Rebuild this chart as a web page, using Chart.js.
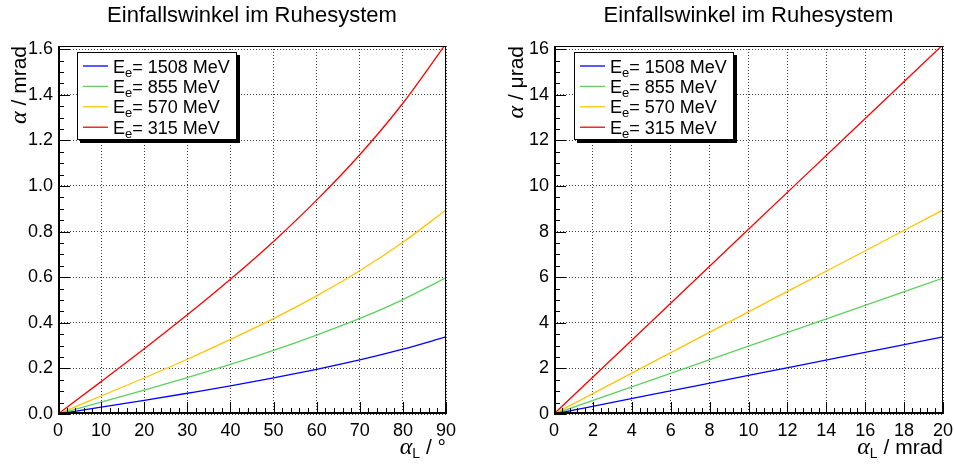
<!DOCTYPE html>
<html>
<head>
<meta charset="utf-8">
<script src="https://cdn.jsdelivr.net/npm/chart.js@4.4.1/dist/chart.umd.min.js"></script>
<style>
  html, body { margin: 0; padding: 0; background: #fff; }
  #wrap { display: flex; width: 954px; height: 465px; }
  canvas { display: block; }
</style>
</head>
<body>
<div id="wrap">
  <canvas id="leftChart" width="477" height="465"></canvas>
  <canvas id="rightChart" width="477" height="465"></canvas>
</div>
<script>
// beam energies (MeV), same order in both panels
const energies = [1508, 855, 570, 315];

// left panel: alpha_L in degrees, alpha in mrad
const angleDeg = [0, 10, 20, 30, 40, 50, 60, 70, 80, 90];
const alphaDeg1508 = [0, 0.030, 0.060, 0.091, 0.123, 0.158, 0.196, 0.237, 0.284, 0.338];
const alphaDeg855  = [0, 0.052, 0.105, 0.160, 0.218, 0.279, 0.346, 0.419, 0.502, 0.597];
const alphaDeg570  = [0, 0.079, 0.158, 0.240, 0.327, 0.418, 0.518, 0.628, 0.753, 0.895];
const alphaDeg315  = [0, 0.142, 0.286, 0.435, 0.591, 0.757, 0.938, 1.137, 1.363, 1.624];

// right panel: alpha_L in mrad, alpha in urad
const angleMrad = [0, 5, 10, 15, 20];
const alphaMrad1508 = [0, 0.845, 1.69, 2.535, 3.38];
const alphaMrad855  = [0, 1.49, 2.98, 4.47, 5.96];
const alphaMrad570  = [0, 2.24, 4.48, 6.71, 8.95];
const alphaMrad315  = [0, 4.05, 8.10, 12.15, 16.20];

// tick labels
const xTicksDeg = [0, 10, 20, 30, 40, 50, 60, 70, 80, 90];
const yTicksDeg = [0, 0.2, 0.4, 0.6, 0.8, 1.0, 1.2, 1.4, 1.6];
const xTicksMrad = [0, 2, 4, 6, 8, 10, 12, 14, 16, 18, 20];
const yTicksMrad = [0, 2, 4, 6, 8, 10, 12, 14, 16];

const lineColors = ['#0000ff', '#5fcf5f', '#ffc400', '#ff0000'];
const FONT = '"Liberation Sans", Arial, sans-serif';

function pairs(xs, ys) {
  return xs.map((x, i) => ({ x: x, y: ys[i] }));
}

// text made of runs with different fonts / vertical offsets (subscripts)
function drawRuns(ctx, runs, x, y, align) {
  let total = 0;
  runs.forEach(r => { ctx.font = r.font; r.w = ctx.measureText(r.text).width; total += r.w; });
  let cx = align === 'right' ? x - total : x;
  runs.forEach(r => {
    ctx.font = r.font;
    ctx.textAlign = 'left';
    ctx.fillText(r.text, cx, y + (r.dy || 0));
    cx += r.w;
  });
}

function subValues(ticks, n) {
  const out = [];
  for (let i = 0; i < ticks.length - 1; i++) {
    const step = (ticks[i + 1] - ticks[i]) / n;
    for (let k = 1; k < n; k++) out.push(ticks[i] + k * step);
  }
  return out;
}

const rootStyle = {
  id: 'rootStyle',
  afterDraw(chart, args, o) {
    const ctx = chart.ctx;
    const a = chart.chartArea;
    const xs = chart.scales.x, ys = chart.scales.y;
    ctx.save();
    ctx.fillStyle = '#000';
    ctx.strokeStyle = '#000';

    // tick marks pointing into the frame
    ctx.lineWidth = 1;
    ctx.beginPath();
    o.xTicks.forEach(v => {
      const p = Math.round(xs.getPixelForValue(v)) + 0.5;
      ctx.moveTo(p, a.bottom); ctx.lineTo(p, a.bottom - 12);
    });
    subValues(o.xTicks, o.xSub).forEach(v => {
      const p = Math.round(xs.getPixelForValue(v)) + 0.5;
      ctx.moveTo(p, a.bottom); ctx.lineTo(p, a.bottom - 6);
    });
    o.yTicks.forEach(v => {
      const p = Math.round(ys.getPixelForValue(v)) + 0.5;
      ctx.moveTo(a.left, p); ctx.lineTo(a.left + 12, p);
    });
    subValues(o.yTicks, o.ySub).forEach(v => {
      const p = Math.round(ys.getPixelForValue(v)) + 0.5;
      ctx.moveTo(a.left, p); ctx.lineTo(a.left + 6, p);
    });
    ctx.stroke();

    // frame
    ctx.lineWidth = 1;
    ctx.strokeRect(a.left + 0.5, a.top + 0.5, a.right - a.left - 1, a.bottom - a.top - 1);
    ctx.lineWidth = 2;
    ctx.beginPath();
    ctx.moveTo(a.left + 1, a.top); ctx.lineTo(a.left + 1, a.bottom - 1); ctx.lineTo(a.right, a.bottom - 1);
    ctx.stroke();

    // title
    ctx.font = '22px ' + FONT;
    ctx.textAlign = 'center';
    ctx.textBaseline = 'alphabetic';
    ctx.fillText(o.title, (a.left + a.right) / 2, 22);

    // x axis title, right aligned
    const big = '21px ' + FONT;
    const sym = 'italic 24px "Liberation Serif", serif';
    const small = '14px ' + FONT;
    drawRuns(ctx, [
      { text: 'α', font: sym },
      { text: 'L', font: small, dy: 4 },
      { text: ' / ' + o.xUnit, font: big }
    ], a.right, 454, 'right');

    // y axis title, rotated, right aligned at the top
    ctx.save();
    ctx.translate(o.yTitleX, a.top);
    ctx.rotate(-Math.PI / 2);
    drawRuns(ctx, [
      { text: 'α', font: sym },
      { text: ' / ' + o.yUnit, font: big }
    ], 0, 0, 'right');
    ctx.restore();

    // legend box with shadow
    const lx = o.legendX, ly = 52, lw = 160, lh = 88;
    ctx.fillStyle = '#000';
    ctx.fillRect(lx + 3, ly + 3, lw, lh);
    ctx.fillStyle = '#fff';
    ctx.fillRect(lx, ly, lw, lh);
    ctx.lineWidth = 1;
    ctx.strokeStyle = '#000';
    ctx.strokeRect(lx + 0.5, ly + 0.5, lw - 1, lh - 1);
    chart.data.datasets.forEach((ds, i) => {
      const cy = 66 + i * 20.4;
      ctx.strokeStyle = ds.borderColor;
      ctx.lineWidth = 1.3;
      ctx.beginPath();
      ctx.moveTo(lx + 6, cy); ctx.lineTo(lx + 31, cy);
      ctx.stroke();
      ctx.fillStyle = '#000';
      ctx.textBaseline = 'alphabetic';
      drawRuns(ctx, [
        { text: 'E', font: '18px ' + FONT },
        { text: 'e', font: '13px ' + FONT, dy: 4 },
        { text: '= ' + energies[i] + ' MeV', font: '18px ' + FONT }
      ], lx + 36, cy + 6.5, 'left');
    });
    ctx.restore();
  }
};

function makeChart(id, xVals, series, xTicks, yTicks, yMax, opts) {
  const xMax = xTicks[xTicks.length - 1];
  return new Chart(document.getElementById(id), {
    type: 'line',
    data: {
      datasets: series.map((s, i) => ({
        label: 'E_e= ' + energies[i] + ' MeV',
        data: pairs(xVals, s),
        borderColor: lineColors[i],
        borderWidth: 1.3,
        pointRadius: 0,
        cubicInterpolationMode: 'monotone',
        fill: false
      }))
    },
    options: {
      responsive: false,
      animation: false,
      devicePixelRatio: 1,
      layout: { padding: { left: 0, top: 46, right: opts.padRight, bottom: 0 } },
      plugins: {
        legend: { display: false },
        title: { display: false },
        tooltip: { enabled: false },
        rootStyle: opts.style
      },
      scales: {
        x: {
          type: 'linear',
          min: 0,
          max: xMax,
          afterBuildTicks: sc => { sc.ticks = xTicks.map(v => ({ value: v })); },
          afterFit: sc => { sc.height = 51; sc.paddingLeft = 0; sc.paddingRight = 0; },
          grid: { color: 'rgba(0,0,0,0.75)', lineWidth: 1, drawTicks: false },
          border: { display: false, dash: [1, 2] },
          ticks: { color: '#000', padding: 6, maxRotation: 0, font: { family: FONT, size: 18 } }
        },
        y: {
          type: 'linear',
          min: 0,
          max: yMax,
          afterBuildTicks: sc => { sc.ticks = yTicks.map(v => ({ value: v })); },
          afterFit: sc => { sc.width = opts.yWidth; sc.paddingTop = 0; sc.paddingBottom = 0; },
          grid: { color: 'rgba(0,0,0,0.75)', lineWidth: 1, drawTicks: false },
          border: { display: false, dash: [1, 2] },
          ticks: {
            color: '#000', padding: 5, font: { family: FONT, size: 18 },
            callback: v => opts.yFmt(v)
          }
        }
      }
    },
    plugins: [rootStyle]
  });
}

makeChart('leftChart', angleDeg,
  [alphaDeg1508, alphaDeg855, alphaDeg570, alphaDeg315],
  xTicksDeg, yTicksDeg, 1.614,
  {
    padRight: 31, yWidth: 58, yFmt: v => v.toFixed(1),
    style: { title: 'Einfallswinkel im Ruhesystem', xUnit: '°', yUnit: 'mrad', yTitleX: 26, legendX: 77,
             xTicks: xTicksDeg, yTicks: yTicksDeg, xSub: 5, ySub: 4 }
  });

makeChart('rightChart', angleMrad,
  [alphaMrad1508, alphaMrad855, alphaMrad570, alphaMrad315],
  xTicksMrad, yTicksMrad, 16.14,
  {
    padRight: 11, yWidth: 77, yFmt: v => String(Math.round(v)),
    style: { title: 'Einfallswinkel im Ruhesystem', xUnit: 'mrad', yUnit: 'μrad', yTitleX: 46, legendX: 97,
             xTicks: xTicksMrad, yTicks: yTicksMrad, xSub: 5, ySub: 4 }
  });
</script>
</body>
</html>
